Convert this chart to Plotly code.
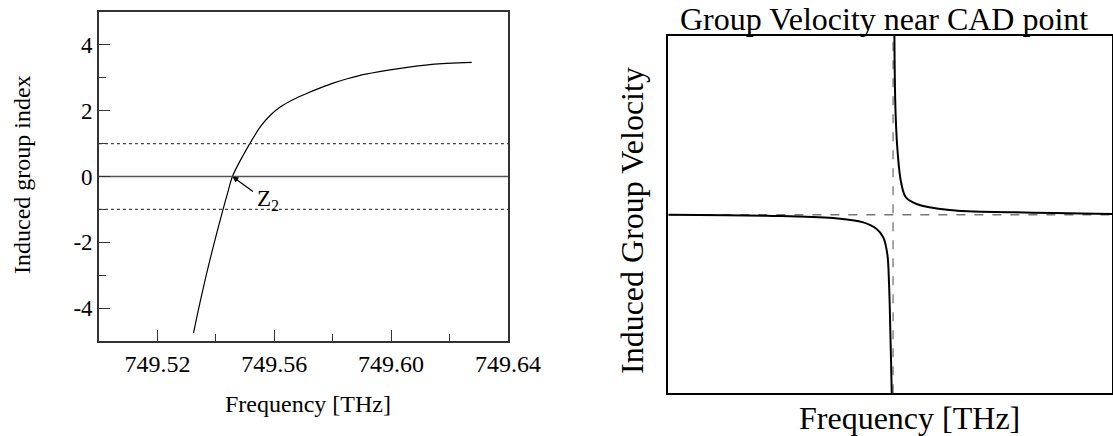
import plotly.graph_objects as go

# ---- Left panel data: induced group index vs frequency ----
freq_thz = [749.53239, 749.53416, 749.53672, 749.53950, 749.54248, 749.54405, 749.54569,
            749.55138, 749.55533, 749.55874, 749.56215, 749.56672, 749.57126, 749.5760,
            749.5799, 749.5850, 749.5913, 749.6026, 749.6140, 749.6276]
group_index = [-4.75, -4.0, -3.0, -2.0, -1.0, -0.5, 0.0, 0.96, 1.52, 1.87,
               2.12, 2.35, 2.53, 2.70, 2.83, 2.97, 3.11, 3.28, 3.41, 3.47]
ref_levels = [1, -1]
x_ticks = [749.52, 749.56, 749.60, 749.64]
x_tick_labels = ["749.52", "749.56", "749.60", "749.64"]
y_ticks = [-4, -2, 0, 2, 4]
y_tick_labels = ["-4", "-2", "0", "2", "4"]
zero_freq = 749.54569

# ---- Right panel data (arbitrary units) ----
left_branch_x = [0, 22.1, 37.1, 43.9, 46.9, 48.4, 49.3, 49.7, 50.0, 50.3, 50.35]
left_branch_y = [0, -0.006, -0.019, -0.043, -0.080, -0.127, -0.22, -0.39, -0.668, -1.0, -1.1]
right_branch_x = [50.85, 50.9, 51.0, 51.2, 51.6, 52.4, 53.5, 55.9, 63.3, 78.3, 100]
right_branch_y = [1.1, 1.0, 0.75, 0.545, 0.359, 0.181, 0.097, 0.06, 0.026, 0.013, 0.004]
asymptote_x = 50.6

FONT = "Liberation Serif, Times New Roman, serif"

fig = go.Figure()

# Left panel
fig.add_trace(go.Scatter(x=freq_thz, y=group_index, mode="lines",
                         line=dict(color="black", width=1.2, shape="spline", smoothing=0.8),
                         xaxis="x", yaxis="y", showlegend=False, hoverinfo="skip"))
for lv in ref_levels:
    fig.add_trace(go.Scatter(x=[749.50, 749.64], y=[lv, lv], mode="lines",
                             line=dict(color="#444", width=1.2, dash="dot"),
                             xaxis="x", yaxis="y", showlegend=False, hoverinfo="skip"))
fig.add_trace(go.Scatter(x=[749.50, 749.64], y=[0, 0], mode="lines",
                         line=dict(color="#555", width=1.5),
                         xaxis="x", yaxis="y", showlegend=False, hoverinfo="skip"))

# Right panel
fig.add_trace(go.Scatter(x=[0, 100], y=[0, 0], mode="lines",
                         line=dict(color="#777", width=1.5, dash="dash"),
                         xaxis="x2", yaxis="y2", showlegend=False, hoverinfo="skip"))
fig.add_trace(go.Scatter(x=[asymptote_x, asymptote_x], y=[-1, 1], mode="lines",
                         line=dict(color="#888", width=1.5, dash="dash"),
                         xaxis="x2", yaxis="y2", showlegend=False, hoverinfo="skip"))
fig.add_trace(go.Scatter(x=left_branch_x, y=left_branch_y, mode="lines",
                         line=dict(color="black", width=2, shape="spline"),
                         xaxis="x2", yaxis="y2", showlegend=False, hoverinfo="skip"))
fig.add_trace(go.Scatter(x=right_branch_x, y=right_branch_y, mode="lines",
                         line=dict(color="black", width=2, shape="spline"),
                         xaxis="x2", yaxis="y2", showlegend=False, hoverinfo="skip"))

axis_line = dict(showline=True, linecolor="#333", linewidth=1.5, mirror=True,
                 showgrid=False, zeroline=False, automargin=False)

fig.update_layout(
    width=1113, height=436, margin=dict(l=0, r=0, t=0, b=0),
    paper_bgcolor="white", plot_bgcolor="white",
    font=dict(family=FONT, color="black"),
    xaxis=dict(domain=[0.0889, 0.4564], range=[749.50, 749.64], anchor="y",
               tickmode="array", tickvals=x_ticks, ticktext=x_tick_labels,
               ticks="inside", ticklen=11, tickwidth=1.2, tickcolor="#333",
               minor=dict(dtick=0.02, tick0=749.50, ticks="inside", ticklen=7,
                          tickwidth=1.2, tickcolor="#333"),
               tickfont=dict(size=24, family=FONT),
               **axis_line),
    yaxis=dict(domain=[0.2179, 0.9725], range=[-5, 5], anchor="x",
               tickmode="array", tickvals=y_ticks, ticktext=y_tick_labels,
               ticks="inside", ticklen=11, tickwidth=1.2, tickcolor="#333",
               minor=dict(dtick=1, tick0=-5, ticks="inside", ticklen=7,
                          tickwidth=1.2, tickcolor="#333"),
               tickfont=dict(size=23, family=FONT),
               **axis_line),
    xaxis2=dict(domain=[0.6005, 0.9995], range=[0, 100], anchor="y2",
                showticklabels=False, ticks="", automargin=False,
                showline=True, linecolor="black", linewidth=2, mirror=True,
                showgrid=False, zeroline=False),
    yaxis2=dict(domain=[0.0979, 0.9174], range=[-1, 1], anchor="x2",
                showticklabels=False, ticks="", automargin=False,
                showline=True, linecolor="black", linewidth=2, mirror=True,
                showgrid=False, zeroline=False),
    annotations=[
        dict(x=zero_freq, y=0, xref="x", yref="y", ax=22, ay=16,
             text="", showarrow=True, arrowhead=2, arrowsize=1, arrowwidth=1.2,
             arrowcolor="black"),
        dict(x=zero_freq, y=0, xref="x", yref="y", xshift=36, yshift=-24,
             text="Z<sub>2</sub>", showarrow=False, font=dict(size=23, family=FONT)),
        # left panel axis titles
        dict(x=308 / 1113, y=1 - 404 / 436, xref="paper", yref="paper", text="Frequency [THz]",
             showarrow=False, font=dict(size=24, family=FONT), xanchor="center", yanchor="middle"),
        dict(x=22 / 1113, y=1 - 175 / 436, xref="paper", yref="paper", text="Induced group index",
             textangle=-90, showarrow=False, font=dict(size=24, family=FONT),
             xanchor="center", yanchor="middle"),
        # right panel texts
        dict(x=884 / 1113, y=1 - 19 / 436, xref="paper", yref="paper",
             text="Group Velocity near CAD point", showarrow=False,
             font=dict(size=32, family=FONT), xanchor="center", yanchor="middle"),
        dict(x=632 / 1113, y=1 - 221 / 436, xref="paper", yref="paper",
             text="Induced Group Velocity", textangle=-90, showarrow=False,
             font=dict(size=32, family=FONT), xanchor="center", yanchor="middle"),
        dict(x=909 / 1113, y=1 - 418 / 436, xref="paper", yref="paper",
             text="Frequency [THz]", showarrow=False,
             font=dict(size=32, family=FONT), xanchor="center", yanchor="middle"),
    ],
)

fig.write_html("out.html")
